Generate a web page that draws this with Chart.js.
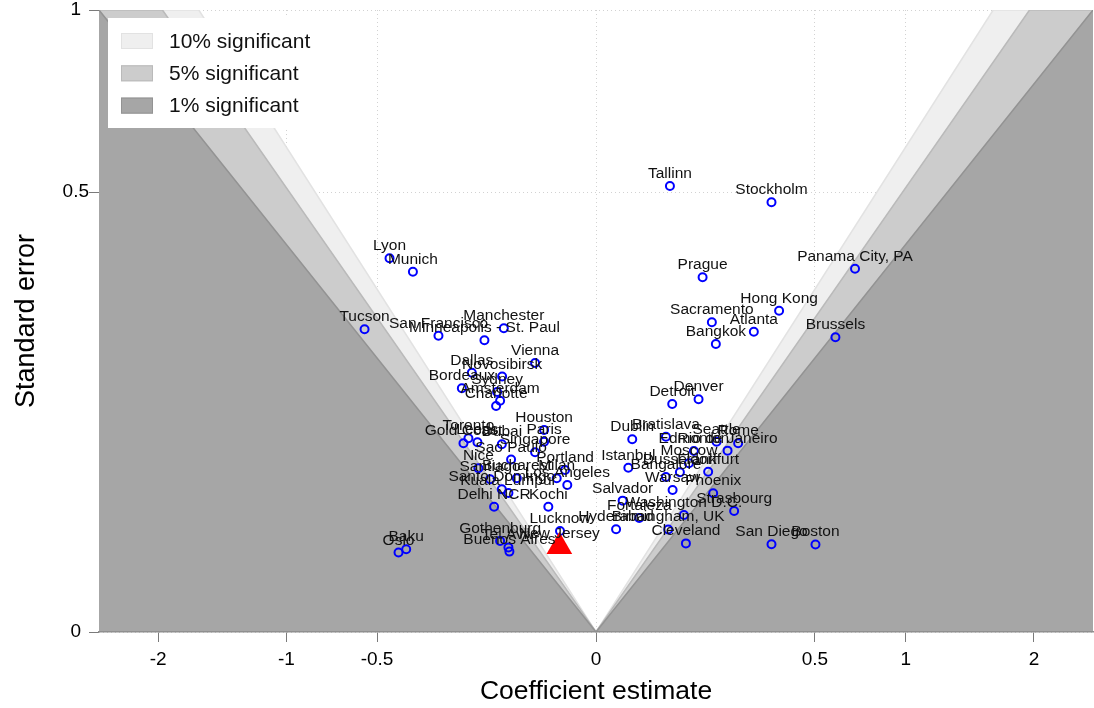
<!DOCTYPE html>
<html lang="en">
  <head>
    <meta charset="UTF-8">
    <title>City estimates - funnel plot</title>
    <style>
      html, body { margin: 0; padding: 0; overflow: hidden; background: #fff; }
      canvas { display: block; }
    </style>
    <script src="https://cdn.jsdelivr.net/npm/chart.js"></script>
  </head>

  <body>
    <canvas id="myChart" width="1094" height="708"></canvas>

<script>
  // one entry per city: coefficient estimate and its standard error
  const cities = [
    'Lyon', 'Munich', 'Tucson', 'San Francisco', 'Manchester', 'Minneapolis - St. Paul',
    'Vienna', 'Novosibirsk', 'Dallas', 'Bordeaux', 'Sydney', 'Amsterdam', 'Charlotte',
    'Houston', 'Paris', 'Toronto', 'Gold Coast', 'Leeds', 'Dubai', 'Singapore', 'Sao Paulo',
    'Nice', 'Portland', 'Bucharest', 'Milan', 'Los Angeles', 'Santiago', 'Santo Domingo',
    'Kuala Lumpur', 'Delhi NCR', 'Kochi', 'Lucknow', 'New Jersey', 'Gothenburg', 'Tel Aviv',
    'Buenos Aires', 'Baku', 'Oslo',
    'Tallinn', 'Stockholm', 'Prague', 'Panama City, PA', 'Hong Kong', 'Sacramento',
    'Atlanta', 'Bangkok', 'Brussels', 'Denver', 'Detroit', 'Dublin', 'Bratislava',
    'Seattle', 'Rome', 'Rio de Janeiro', 'Edmonton', 'Moscow', 'Istanbul', 'Frankfurt',
    'Dusseldorf', 'Bangalore', 'Warsaw', 'Phoenix', 'Salvador', 'Strasbourg',
    'Washington D.C.', 'Fortaleza', 'Hyderabad', 'Birmingham, UK', 'Cleveland',
    'San Diego', 'Boston'
  ];
  const coef = [
    -0.4446, -0.3496, -0.5586, -0.2588, -0.0886, -0.1298,
    -0.0387, -0.0919, -0.1608, -0.1877, -0.1020, -0.0959, -0.1041,
    -0.0281, -0.0281, -0.1697, -0.1832, -0.1466, -0.0925, -0.0387, -0.0752,
    -0.1442, -0.0100, -0.0654, -0.0161, -0.0086, -0.1169, -0.0925,
    -0.0800, -0.1083, -0.0237, -0.0135, -0.0140, -0.0959, -0.0800,
    -0.0782, -0.3757, -0.4067,
    0.0570, 0.3212, 0.1185, 0.6997, 0.3496, 0.1400,
    0.2598, 0.1498, 0.5978, 0.1097, 0.0606, 0.0137, 0.0510,
    0.1516, 0.2107, 0.1805, 0.0999, 0.0900, 0.0109, 0.1312,
    0.0734, 0.0510, 0.0612, 0.1432, 0.0074, 0.1990,
    0.0806, 0.0195, 0.0042, 0.0544, 0.0843,
    0.3212, 0.5023
  ];
  const stdErr = [
    0.3610, 0.3356, 0.2368, 0.2269, 0.2384, 0.2199,
    0.1870, 0.1687, 0.1738, 0.1535, 0.1489, 0.1383, 0.1320,
    0.1055, 0.0936, 0.0970, 0.0920, 0.0930, 0.0911, 0.0835, 0.0769,
    0.0693, 0.0678, 0.0611, 0.0611, 0.0559, 0.0603, 0.0526,
    0.0499, 0.0406, 0.0406, 0.0264, 0.0189, 0.0214, 0.0185,
    0.0167, 0.0177, 0.0163,
    0.5141, 0.4772, 0.3252, 0.3412, 0.2668, 0.2479,
    0.2331, 0.2144, 0.2245, 0.1400, 0.1344, 0.0960, 0.0986,
    0.0936, 0.0920, 0.0850, 0.0847, 0.0736, 0.0698, 0.0664,
    0.0659, 0.0621, 0.0521, 0.0497, 0.0446, 0.0378,
    0.0354, 0.0336, 0.0273, 0.0272, 0.0203,
    0.0199, 0.0198
  ];
  const highlight = 'New Jersey';

  // significance bands: two-sided critical values
  const bandLabels = ['10% significant', '5% significant', '1% significant'];
  const zCrit = [1.645, 1.96, 2.576];
  const bandFill = ['#efefef', '#cccccc', '#a6a6a6'];
  const bandLine = ['#e2e2e2', '#bababa', '#939393'];

  const xTicks = [-2, -1, -0.5, 0, 0.5, 1, 2];
  const yTicks = [0, 0.5, 1];
  const xMin = -2.576, xMax = 2.576;

  const FONT = '"Liberation Sans", Arial, Helvetica, sans-serif';
  Chart.defaults.font.family = FONT;
  Chart.defaults.color = '#000';

  // square-root axis, signed so that negative estimates mirror the positive side
  const ssqrt = v => Math.sign(v) * Math.sqrt(Math.abs(v));

  class SqrtScale extends Chart.LinearScale {
    static id = 'sqrt';
    static defaults = Chart.LinearScale.defaults;

    getPixelForValue(value) {
      if (value === null || value === undefined) return NaN;
      const lo = ssqrt(this.min), hi = ssqrt(this.max);
      return this.getPixelForDecimal((ssqrt(value) - lo) / (hi - lo));
    }

    getValueForPixel(pixel) {
      const lo = ssqrt(this.min), hi = ssqrt(this.max);
      const t = lo + this.getDecimalForPixel(pixel) * (hi - lo);
      return Math.sign(t) * t * t;
    }
  }
  Chart.register(SqrtScale);

  // boundary |b| = z * se, carried along the top edge out to the axis limits
  function bandEdge(z) {
    return [
      { x: xMin, y: 1 }, { x: -z, y: 1 }, { x: 0, y: 0 }, { x: z, y: 1 }, { x: xMax, y: 1 }
    ];
  }

  const bandSets = zCrit.map((z, i) => ({
    type: 'line',
    label: bandLabels[i],
    data: bandEdge(z),
    fill: 'start',
    backgroundColor: bandFill[i],
    borderColor: bandLine[i],
    borderWidth: 1.5,
    pointRadius: 0,
    tension: 0,
    order: 10 - i,
  }));

  const points = cities.map((c, i) => ({ x: coef[i], y: stdErr[i] }));
  const hi = cities.indexOf(highlight);

  const cityLabels = {
    id: 'cityLabels',
    afterDatasetsDraw(chart) {
      const meta = chart.getDatasetMeta(0);
      const ctx = chart.ctx;
      ctx.save();
      ctx.font = '15.5px ' + FONT;
      ctx.fillStyle = '#111';
      ctx.textAlign = 'center';
      ctx.textBaseline = 'alphabetic';
      meta.data.forEach((el, i) => {
        ctx.fillText(cities[i], el.x, el.y - 8);
      });
      ctx.restore();
    }
  };

  const bandLegend = {
    id: 'bandLegend',
    afterDraw(chart) {
      const ctx = chart.ctx;
      ctx.save();
      ctx.fillStyle = '#fff';
      ctx.fillRect(108, 18, 240, 110);
      ctx.font = '21px ' + FONT;
      ctx.textBaseline = 'middle';
      bandLabels.forEach((lab, i) => {
        const cy = 41 + i * 32.3;
        ctx.fillStyle = bandFill[i];
        ctx.fillRect(121, cy - 8, 32, 16);
        ctx.strokeStyle = bandLine[i];
        ctx.lineWidth = 1;
        ctx.strokeRect(121.5, cy - 7.5, 31, 15);
        ctx.fillStyle = '#111';
        ctx.fillText(lab, 169, cy + 1);
      });
      ctx.restore();
    }
  };

  const axisGrid = { color: '#d2d2d2', tickColor: '#7a7a7a', tickLength: 10, lineWidth: 1 };

  // keep the plot box fixed: no extra room for half-labels at the ends
  function noEndPadding(s) {
    s.paddingLeft = 0; s.paddingRight = 0; s.paddingTop = 0; s.paddingBottom = 0;
  }

  new Chart(document.getElementById('myChart'), {
    type: 'scatter',
    data: {
      datasets: [
        {
          label: 'Cities',
          data: points,
          pointStyle: 'circle',
          radius: 4,
          borderWidth: 2,
          borderColor: '#0000ff',
          backgroundColor: 'rgba(0,0,0,0)',
          order: 1,
        },
        {
          label: highlight,
          data: [points[hi]],
          pointStyle: 'triangle',
          radius: 14.8,
          borderWidth: 0,
          backgroundColor: '#ff0000',
          borderColor: '#ff0000',
          order: 0,
        },
        ...bandSets
      ]
    },
    options: {
      responsive: false,
      animation: false,
      layout: { autoPadding: false, padding: { top: 10, right: 1, left: 0, bottom: 0 } },
      plugins: {
        legend: { display: false },
        tooltip: { enabled: false },
      },
      scales: {
        x: {
          type: 'sqrt',
          min: xMin,
          max: xMax,
          bounds: 'data',
          afterBuildTicks: s => { s.ticks = xTicks.map(v => ({ value: v })); },
          afterFit: s => { s.height = 76; noEndPadding(s); },
          grid: axisGrid,
          // solid base line over the shading; dash applies to the dotted grid
          border: { display: true, color: '#8f8f8f', width: 1.5, z: 1, dash: [1, 3] },
          ticks: {
            autoSkip: false, maxRotation: 0, padding: 6,
            font: { size: 19 }, color: '#000',
            callback: v => String(v)
          },
          title: {
            display: true, text: 'Coefficient estimate', color: '#000',
            font: { size: 26.5 }, padding: { top: 0, bottom: 0 }
          }
        },
        y: {
          type: 'sqrt',
          min: 0,
          max: 1,
          bounds: 'data',
          afterBuildTicks: s => { s.ticks = yTicks.map(v => ({ value: v })); },
          afterFit: s => { s.width = 99; noEndPadding(s); },
          grid: axisGrid,
          border: { display: false, dash: [1, 3] },
          ticks: {
            crossAlign: 'center', padding: 0,
            font: { size: 19 }, color: '#000',
            callback: v => String(v)
          },
          title: {
            display: true, text: 'Standard error', color: '#000',
            font: { size: 27 }, padding: { top: 10, bottom: 0 }
          }
        }
      }
    },
    plugins: [cityLabels, bandLegend]
  });
</script>

  </body>
</html>
